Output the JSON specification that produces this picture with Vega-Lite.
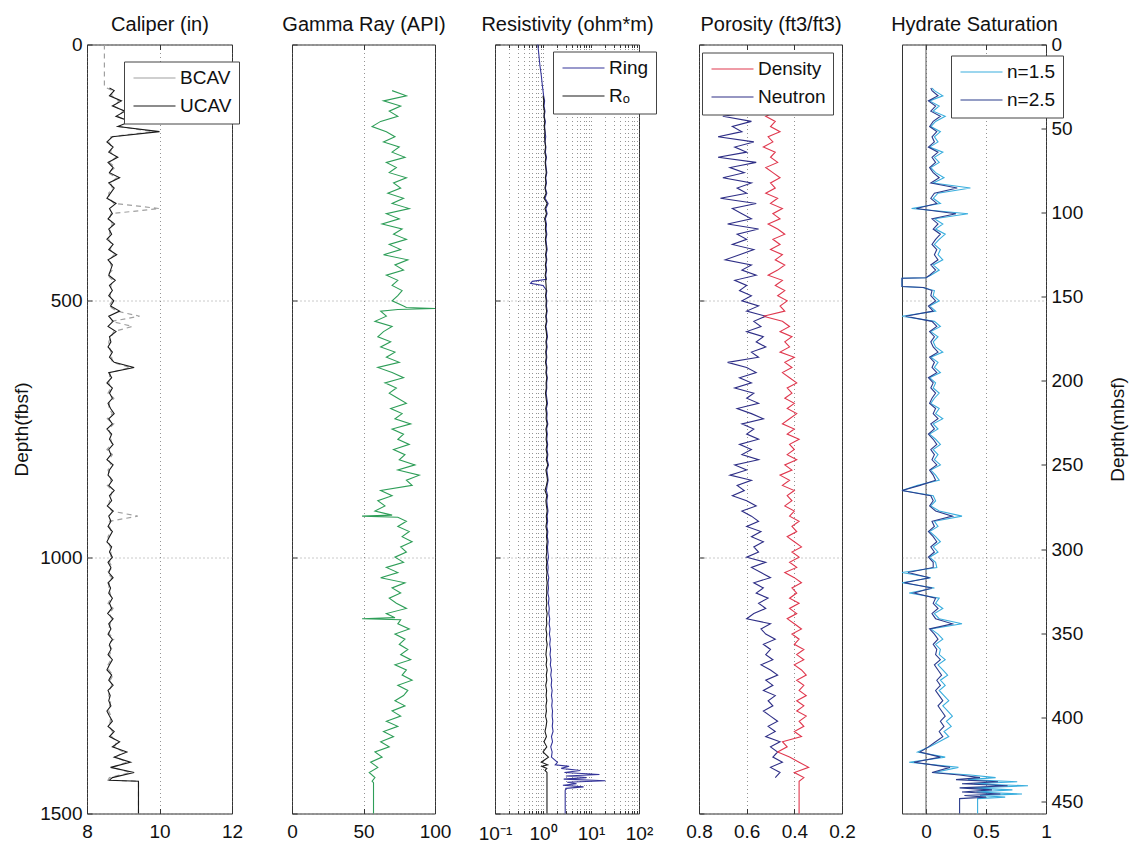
{
"$schema": "https://vega.github.io/schema/vega-lite/v6.json",
"padding": {"left": 12, "right": 0, "top": 13.5, "bottom": 0},
"config": {
  "font": "Liberation Sans",
  "view": {"stroke": "#333", "strokeWidth": 1},
  "axis": {"domain": false, "labelFontSize": 19, "labelColor": "#111", "titleFontSize": 19, "titleFontWeight": "normal", "titleColor": "#111", "tickColor": "#333", "tickSize": -5, "labelPadding": 10, "gridColor": "#666", "gridDash": [1, 3], "gridOpacity": 0.7, "labelFlush": false, "labelOverlap": false},
  "axisX": {"labelPadding": 14},
  "axisTop": {"labels": false, "grid": false, "titleFontSize": 20, "titlePadding": 10},
  "legend": {"orient": "none", "fillColor": "white", "strokeColor": "#444", "padding": 7, "rowPadding": 8, "labelFontSize": 19, "labelColor": "#111", "symbolType": "M-3,0H3", "symbolSize": 196, "symbolOffset": 14, "labelOffset": 16, "symbolStrokeWidth": 1},
  "line": {"strokeWidth": 1.1}
},
"datasets": {
  "cal": [
    {"d":0,"b":8.48},{"d":40,"b":8.48},{"d":82,"b":8.48},{"d":85,"u":8.62,"b":8.55},
    {"d":90,"u":8.75,"b":8.7},{"d":100,"u":8.62,"b":8.68},{"d":110,"u":8.95,"b":8.88},{"d":120,"u":8.7,"b":8.75},{"d":130,"u":9.05,"b":9.0},{"d":140,"u":8.8,"b":8.85},{"d":150,"u":9.2,"b":9.1},{"d":160,"u":8.85,"b":8.9},{"d":170,"u":10.0,"b":9.8},{"d":180,"u":8.7,"b":8.66},
    {"d":190,"u":8.55,"b":8.6},{"d":200,"u":8.72,"b":8.68},{"d":210,"u":8.6,"b":8.65},{"d":220,"u":8.85,"b":8.8},{"d":230,"u":8.58,"b":8.62},{"d":240,"u":8.72,"b":8.78},{"d":250,"u":8.62,"b":8.58},{"d":260,"u":8.9,"b":8.82},{"d":270,"u":8.6,"b":8.65},{"d":280,"u":8.75,"b":8.7},
    {"d":290,"u":8.65,"b":8.6},{"d":300,"u":8.55,"b":8.62},{"d":310,"u":8.8,"b":8.74},{"d":320,"u":8.62,"b":10.0},{"d":330,"u":8.7,"b":8.66},{"d":340,"u":8.58,"b":8.62},{"d":350,"u":8.76,"b":8.7},{"d":360,"u":8.6,"b":8.64},{"d":370,"u":8.68,"b":8.62},{"d":380,"u":8.55,"b":8.6},
    {"d":390,"u":8.72,"b":8.68},{"d":400,"u":8.6,"b":8.64},{"d":410,"u":8.82,"b":8.75},{"d":420,"u":8.58,"b":8.62},{"d":430,"u":8.7,"b":8.66},{"d":440,"u":8.65,"b":8.7},{"d":450,"u":8.6,"b":8.56},{"d":460,"u":8.78,"b":8.72},{"d":470,"u":8.62,"b":8.66},{"d":480,"u":8.7,"b":8.65},
    {"d":490,"u":8.6,"b":8.64},{"d":500,"u":8.74,"b":8.7},{"d":510,"u":8.65,"b":8.6},{"d":520,"u":8.9,"b":8.82},{"d":530,"u":8.6,"b":9.45},{"d":540,"u":8.72,"b":8.68},{"d":550,"u":8.58,"b":9.25},{"d":560,"u":8.8,"b":8.74},{"d":570,"u":8.62,"b":8.66},{"d":580,"u":8.66,"b":8.6},
    {"d":590,"u":8.58,"b":8.62},{"d":600,"u":8.7,"b":8.66},{"d":610,"u":8.62,"b":8.68},{"d":620,"u":8.75,"b":8.7},{"d":630,"u":9.3,"b":9.2},{"d":640,"u":8.6,"b":8.64},{"d":650,"u":8.68,"b":8.62},{"d":660,"u":8.55,"b":8.6},{"d":670,"u":8.7,"b":8.66},{"d":680,"u":8.62,"b":8.58},
    {"d":690,"u":8.7,"b":8.74},{"d":700,"u":8.58,"b":8.62},{"d":710,"u":8.65,"b":8.6},{"d":720,"u":8.75,"b":8.7},{"d":730,"u":8.6,"b":8.56},{"d":740,"u":8.7,"b":8.74},{"d":750,"u":8.55,"b":8.6},{"d":760,"u":8.68,"b":8.64},{"d":770,"u":8.62,"b":8.66},{"d":780,"u":8.72,"b":8.68},
    {"d":790,"u":8.6,"b":8.55},{"d":800,"u":8.66,"b":8.7},{"d":810,"u":8.55,"b":8.6},{"d":820,"u":8.72,"b":8.66},{"d":830,"u":8.62,"b":8.58},{"d":840,"u":8.58,"b":8.64},{"d":850,"u":8.7,"b":8.66},{"d":860,"u":8.6,"b":8.56},{"d":870,"u":8.75,"b":8.7},{"d":880,"u":8.62,"b":8.66},
    {"d":890,"u":8.68,"b":8.62},{"d":900,"u":8.56,"b":8.6},{"d":910,"u":8.72,"b":8.68},{"d":920,"u":8.6,"b":9.4},{"d":930,"u":8.66,"b":8.62},{"d":940,"u":8.58,"b":8.62},{"d":950,"u":8.7,"b":8.66},{"d":960,"u":8.62,"b":8.58},{"d":970,"u":8.55,"b":8.6},{"d":980,"u":8.68,"b":8.64},
    {"d":990,"u":8.62,"b":8.66},{"d":1000,"u":8.7,"b":8.66},{"d":1010,"u":8.58,"b":8.62},{"d":1020,"u":8.66,"b":8.7},{"d":1030,"u":8.6,"b":8.56},{"d":1040,"u":8.72,"b":8.68},{"d":1050,"u":8.58,"b":8.62},{"d":1060,"u":8.65,"b":8.6},{"d":1070,"u":8.6,"b":8.64},{"d":1080,"u":8.7,"b":8.66},
    {"d":1090,"u":8.62,"b":8.58},{"d":1100,"u":8.68,"b":8.72},{"d":1110,"u":8.57,"b":8.62},{"d":1120,"u":8.72,"b":8.68},{"d":1130,"u":8.6,"b":8.64},{"d":1140,"u":8.66,"b":8.6},{"d":1150,"u":8.58,"b":8.62},{"d":1160,"u":8.7,"b":8.74},{"d":1170,"u":8.62,"b":8.58},{"d":1180,"u":8.66,"b":8.7},
    {"d":1190,"u":8.58,"b":8.62},{"d":1200,"u":8.7,"b":8.66},{"d":1210,"u":8.62,"b":8.58},{"d":1220,"u":8.55,"b":8.6},{"d":1230,"u":8.68,"b":8.72},{"d":1240,"u":8.6,"b":8.64},{"d":1250,"u":8.72,"b":8.68},{"d":1260,"u":8.58,"b":8.62},{"d":1270,"u":8.64,"b":8.6},{"d":1280,"u":8.6,"b":8.66},
    {"d":1290,"u":8.66,"b":8.62},{"d":1300,"u":8.55,"b":8.6},{"d":1310,"u":8.62,"b":8.66},{"d":1320,"u":8.7,"b":8.64},{"d":1330,"u":8.58,"b":8.62},{"d":1340,"u":8.75,"b":8.7},{"d":1350,"u":8.62,"b":8.68},{"d":1360,"u":8.9,"b":8.82},{"d":1370,"u":8.7,"b":8.76},{"d":1380,"u":9.1,"b":9.0},
    {"d":1390,"u":8.75,"b":8.8},{"d":1400,"u":9.2,"b":9.1},{"d":1410,"u":8.65,"b":8.7},{"d":1420,"u":9.3,"b":9.2},{"d":1430,"u":8.7,"b":8.62},{"d":1435,"u":8.62,"b":8.58},{"d":1437,"u":9.42,"b":9.42},{"d":1500,"u":9.42,"b":9.42}
  ],
  "gr": [
    {"d":90,"g":70},{"d":100,"g":80},{"d":110,"g":64},{"d":120,"g":76},{"d":130,"g":68},{"d":140,"g":74},{"d":150,"g":62},{"d":160,"g":56},{"d":170,"g":66},{"d":180,"g":72},
    {"d":190,"g":64},{"d":200,"g":75},{"d":210,"g":70},{"d":220,"g":79},{"d":230,"g":66},{"d":240,"g":73},{"d":250,"g":68},{"d":260,"g":80},{"d":270,"g":71},{"d":280,"g":76},
    {"d":290,"g":67},{"d":300,"g":78},{"d":310,"g":70},{"d":320,"g":82},{"d":330,"g":66},{"d":340,"g":75},{"d":350,"g":63},{"d":360,"g":77},{"d":370,"g":71},{"d":380,"g":80},
    {"d":390,"g":68},{"d":400,"g":76},{"d":410,"g":64},{"d":420,"g":81},{"d":430,"g":72},{"d":440,"g":78},{"d":450,"g":66},{"d":460,"g":74},{"d":470,"g":70},{"d":480,"g":77},
    {"d":490,"g":74},{"d":500,"g":70},{"d":510,"g":78},{"d":513,"g":80},{"d":515,"g":100},{"d":517,"g":74},{"d":520,"g":62},{"d":530,"g":66},{"d":540,"g":58},{"d":550,"g":70},{"d":560,"g":64},{"d":570,"g":60},{"d":580,"g":69},
    {"d":590,"g":62},{"d":600,"g":72},{"d":610,"g":66},{"d":620,"g":75},{"d":630,"g":60},{"d":640,"g":70},{"d":650,"g":78},{"d":660,"g":65},{"d":670,"g":73},{"d":680,"g":68},
    {"d":690,"g":74},{"d":700,"g":80},{"d":710,"g":69},{"d":720,"g":77},{"d":730,"g":72},{"d":740,"g":83},{"d":750,"g":70},{"d":760,"g":78},{"d":770,"g":74},{"d":780,"g":82},
    {"d":790,"g":71},{"d":800,"g":79},{"d":810,"g":75},{"d":820,"g":86},{"d":830,"g":74},{"d":840,"g":89},{"d":850,"g":80},{"d":860,"g":84},{"d":870,"g":62},{"d":880,"g":70},
    {"d":890,"g":60},{"d":900,"g":65},{"d":910,"g":58},{"d":918,"g":70},{"d":920,"g":49},{"d":922,"g":74},{"d":930,"g":80},{"d":940,"g":74},{"d":950,"g":82},{"d":960,"g":77},{"d":970,"g":84},{"d":980,"g":76},
    {"d":990,"g":80},{"d":1000,"g":72},{"d":1010,"g":78},{"d":1020,"g":66},{"d":1030,"g":74},{"d":1040,"g":62},{"d":1050,"g":79},{"d":1060,"g":70},{"d":1070,"g":76},{"d":1080,"g":68},
    {"d":1090,"g":73},{"d":1100,"g":80},{"d":1110,"g":66},{"d":1118,"g":72},{"d":1120,"g":49},{"d":1122,"g":76},{"d":1130,"g":74},{"d":1140,"g":82},{"d":1150,"g":72},{"d":1160,"g":79},{"d":1170,"g":75},{"d":1180,"g":81},
    {"d":1190,"g":76},{"d":1200,"g":83},{"d":1210,"g":72},{"d":1220,"g":80},{"d":1230,"g":77},{"d":1240,"g":84},{"d":1250,"g":74},{"d":1260,"g":81},{"d":1270,"g":78},{"d":1280,"g":72},
    {"d":1290,"g":79},{"d":1300,"g":70},{"d":1310,"g":76},{"d":1320,"g":66},{"d":1330,"g":74},{"d":1340,"g":64},{"d":1350,"g":71},{"d":1360,"g":62},{"d":1370,"g":68},{"d":1380,"g":58},
    {"d":1390,"g":63},{"d":1400,"g":55},{"d":1410,"g":60},{"d":1420,"g":54},{"d":1430,"g":58},{"d":1437,"g":56},{"d":1440,"g":57},{"d":1500,"g":57}
  ],
  "res": [
    {"d":0,"r":0.78},{"d":20,"r":0.82},{"d":40,"r":0.86},{"d":60,"r":0.92},{"d":80,"r":0.97},{"d":90,"r":1.0},
    {"d":100,"r":1.03,"o":1.0},{"d":110,"r":1.08,"o":1.04},{"d":120,"r":1.05,"o":1.02},{"d":130,"r":1.1,"o":1.07},{"d":140,"r":1.06,"o":1.05},{"d":150,"r":1.12,"o":1.09},{"d":160,"r":1.08,"o":1.06},{"d":170,"r":1.1,"o":1.1},{"d":180,"r":1.14,"o":1.08},
    {"d":190,"r":1.1,"o":1.1},{"d":200,"r":1.15,"o":1.13},{"d":210,"r":1.12,"o":1.09},{"d":220,"r":1.18,"o":1.15},{"d":230,"r":1.13,"o":1.11},{"d":240,"r":1.16,"o":1.14},{"d":250,"r":1.2,"o":1.17},{"d":260,"r":1.14,"o":1.12},{"d":270,"r":1.18,"o":1.15},{"d":280,"r":1.12,"o":1.1},
    {"d":290,"r":1.2,"o":1.16},{"d":300,"r":1.1,"o":1.05},{"d":310,"r":1.28,"o":1.22},{"d":320,"r":1.15,"o":1.1},{"d":330,"r":1.22,"o":1.18},{"d":340,"r":1.12,"o":1.08},{"d":350,"r":1.18,"o":1.14},{"d":360,"r":1.16,"o":1.12},{"d":370,"r":1.2,"o":1.16},{"d":380,"r":1.15,"o":1.12},
    {"d":390,"r":1.18,"o":1.15},{"d":400,"r":1.22,"o":1.18},{"d":410,"r":1.16,"o":1.13},{"d":420,"r":1.2,"o":1.17},{"d":430,"r":1.15,"o":1.12},{"d":440,"r":1.19,"o":1.16},{"d":450,"r":1.14,"o":1.11},{"d":458,"r":1.18,"o":1.15},{"d":462,"r":0.6,"o":1.14},{"d":466,"r":0.55,"o":1.15},{"d":470,"r":1.0,"o":1.16},{"d":480,"r":1.2,"o":1.17},
    {"d":490,"r":1.16,"o":1.13},{"d":500,"r":1.2,"o":1.17},{"d":510,"r":1.18,"o":1.15},{"d":520,"r":1.22,"o":1.19},{"d":530,"r":1.17,"o":1.14},{"d":540,"r":1.21,"o":1.18},{"d":550,"r":1.15,"o":1.12},{"d":560,"r":1.2,"o":1.17},{"d":570,"r":1.24,"o":1.2},{"d":580,"r":1.18,"o":1.15},
    {"d":590,"r":1.22,"o":1.18},{"d":600,"r":1.17,"o":1.14},{"d":610,"r":1.2,"o":1.17},{"d":620,"r":1.16,"o":1.13},{"d":630,"r":1.21,"o":1.18},{"d":640,"r":1.18,"o":1.15},{"d":650,"r":1.23,"o":1.2},{"d":660,"r":1.19,"o":1.16},{"d":670,"r":1.2,"o":1.17},{"d":680,"r":1.16,"o":1.13},
    {"d":690,"r":1.2,"o":1.16},{"d":700,"r":1.24,"o":1.2},{"d":710,"r":1.18,"o":1.14},{"d":720,"r":1.22,"o":1.18},{"d":730,"r":1.2,"o":1.16},{"d":740,"r":1.26,"o":1.22},{"d":750,"r":1.19,"o":1.15},{"d":760,"r":1.23,"o":1.19},{"d":770,"r":1.2,"o":1.16},{"d":780,"r":1.25,"o":1.21},
    {"d":790,"r":1.21,"o":1.16},{"d":800,"r":1.26,"o":1.22},{"d":810,"r":1.22,"o":1.17},{"d":820,"r":1.3,"o":1.26},{"d":830,"r":1.2,"o":1.15},{"d":840,"r":1.24,"o":1.2},{"d":850,"r":1.28,"o":1.24},{"d":860,"r":1.22,"o":1.18},{"d":870,"r":1.18,"o":1.1},{"d":880,"r":1.25,"o":1.2},
    {"d":890,"r":1.2,"o":1.15},{"d":900,"r":1.23,"o":1.18},{"d":910,"r":1.27,"o":1.22},{"d":920,"r":1.22,"o":1.17},{"d":930,"r":1.25,"o":1.2},{"d":940,"r":1.2,"o":1.15},{"d":950,"r":1.26,"o":1.21},{"d":960,"r":1.23,"o":1.18},{"d":970,"r":1.28,"o":1.22},{"d":980,"r":1.24,"o":1.18},
    {"d":990,"r":1.26,"o":1.2},{"d":1000,"r":1.3,"o":1.16},{"d":1010,"r":1.24,"o":1.2},{"d":1020,"r":1.28,"o":1.17},{"d":1030,"r":1.25,"o":1.21},{"d":1040,"r":1.32,"o":1.18},{"d":1050,"r":1.27,"o":1.22},{"d":1060,"r":1.3,"o":1.19},{"d":1070,"r":1.26,"o":1.2},{"d":1080,"r":1.33,"o":1.17},
    {"d":1090,"r":1.3,"o":1.2},{"d":1100,"r":1.35,"o":1.16},{"d":1110,"r":1.32,"o":1.22},{"d":1120,"r":1.38,"o":1.18},{"d":1130,"r":1.34,"o":1.2},{"d":1140,"r":1.4,"o":1.15},{"d":1150,"r":1.36,"o":1.2},{"d":1160,"r":1.42,"o":1.17},{"d":1170,"r":1.38,"o":1.22},{"d":1180,"r":1.44,"o":1.18},
    {"d":1190,"r":1.4,"o":1.15},{"d":1200,"r":1.46,"o":1.2},{"d":1210,"r":1.42,"o":1.16},{"d":1220,"r":1.5,"o":1.22},{"d":1230,"r":1.45,"o":1.17},{"d":1240,"r":1.52,"o":1.2},{"d":1250,"r":1.48,"o":1.14},{"d":1260,"r":1.55,"o":1.19},{"d":1270,"r":1.5,"o":1.16},{"d":1280,"r":1.56,"o":1.2},
    {"d":1290,"r":1.52,"o":1.15},{"d":1300,"r":1.58,"o":1.18},{"d":1310,"r":1.55,"o":1.13},{"d":1320,"r":1.6,"o":1.2},{"d":1330,"r":1.56,"o":1.16},{"d":1340,"r":1.62,"o":1.1},{"d":1350,"r":1.5,"o":1.18},{"d":1360,"r":1.58,"o":1.05},{"d":1370,"r":1.45,"o":1.2},{"d":1380,"r":1.55,"o":1.0},
    {"d":1390,"r":1.5,"o":1.3},{"d":1400,"r":2.0,"o":0.92},{"d":1405,"r":1.8,"o":1.25},{"d":1408,"r":3.5,"o":0.95},{"d":1412,"r":2.4,"o":1.2},{"d":1416,"r":6,"o":1.1},{"d":1420,"r":2.8,"o":1.21},{"d":1424,"r":15,"o":1.21},{"d":1427,"r":3,"o":1.21},{"d":1430,"r":8,"o":1.21},{"d":1433,"r":2.7,"o":1.21},{"d":1436,"r":20,"o":1.21},{"d":1439,"r":3.2,"o":1.21},{"d":1442,"r":5,"o":1.21},{"d":1445,"r":2.6,"o":1.21},{"d":1448,"r":7,"o":1.21},{"d":1451,"r":3,"o":1.21},{"d":1455,"r":2.9,"o":1.21},{"d":1500,"r":2.9,"o":1.21}
  ],
  "por": [
    {"d":110,"n":0.6},{"d":120,"p":0.5,"n":0.68},{"d":130,"p":0.47,"n":0.55},{"d":140,"p":0.52,"n":0.7},{"d":150,"p":0.48,"n":0.58},{"d":160,"p":0.5,"n":0.66},{"d":170,"p":0.46,"n":0.62},{"d":180,"p":0.51,"n":0.72},
    {"d":190,"p":0.49,"n":0.57},{"d":200,"p":0.53,"n":0.65},{"d":210,"p":0.48,"n":0.6},{"d":220,"p":0.5,"n":0.72},{"d":230,"p":0.47,"n":0.56},{"d":240,"p":0.52,"n":0.67},{"d":250,"p":0.49,"n":0.61},{"d":260,"p":0.46,"n":0.7},{"d":270,"p":0.5,"n":0.58},{"d":280,"p":0.48,"n":0.64},
    {"d":290,"p":0.52,"n":0.6},{"d":300,"p":0.47,"n":0.71},{"d":310,"p":0.5,"n":0.56},{"d":320,"p":0.45,"n":0.66},{"d":330,"p":0.49,"n":0.62},{"d":340,"p":0.46,"n":0.58},{"d":350,"p":0.51,"n":0.68},{"d":360,"p":0.47,"n":0.55},{"d":370,"p":0.44,"n":0.64},{"d":380,"p":0.49,"n":0.6},
    {"d":390,"p":0.46,"n":0.66},{"d":400,"p":0.5,"n":0.57},{"d":410,"p":0.45,"n":0.63},{"d":420,"p":0.48,"n":0.69},{"d":430,"p":0.44,"n":0.58},{"d":440,"p":0.47,"n":0.62},{"d":450,"p":0.51,"n":0.56},{"d":460,"p":0.45,"n":0.65},{"d":470,"p":0.48,"n":0.6},{"d":480,"p":0.44,"n":0.63},
    {"d":490,"p":0.47,"n":0.58},{"d":500,"p":0.43,"n":0.62},{"d":510,"p":0.46,"n":0.55},{"d":520,"p":0.44,"n":0.6},{"d":530,"p":0.53,"n":0.52},{"d":540,"p":0.45,"n":0.57},{"d":550,"p":0.42,"n":0.54},{"d":560,"p":0.46,"n":0.6},{"d":570,"p":0.41,"n":0.53},{"d":580,"p":0.44,"n":0.56},
    {"d":590,"p":0.42,"n":0.52},{"d":600,"p":0.46,"n":0.58},{"d":610,"p":0.4,"n":0.55},{"d":620,"p":0.44,"n":0.68},{"d":630,"p":0.41,"n":0.6},{"d":640,"p":0.45,"n":0.56},{"d":650,"p":0.42,"n":0.63},{"d":660,"p":0.39,"n":0.58},{"d":670,"p":0.43,"n":0.65},{"d":680,"p":0.41,"n":0.57},
    {"d":690,"p":0.44,"n":0.6},{"d":700,"p":0.4,"n":0.55},{"d":710,"p":0.43,"n":0.64},{"d":720,"p":0.39,"n":0.58},{"d":730,"p":0.42,"n":0.53},{"d":740,"p":0.45,"n":0.62},{"d":750,"p":0.4,"n":0.57},{"d":760,"p":0.43,"n":0.6},{"d":770,"p":0.38,"n":0.55},{"d":780,"p":0.42,"n":0.63},
    {"d":790,"p":0.4,"n":0.58},{"d":800,"p":0.43,"n":0.62},{"d":810,"p":0.39,"n":0.55},{"d":820,"p":0.44,"n":0.65},{"d":830,"p":0.41,"n":0.6},{"d":840,"p":0.46,"n":0.67},{"d":850,"p":0.42,"n":0.58},{"d":860,"p":0.45,"n":0.64},{"d":870,"p":0.4,"n":0.61},{"d":880,"p":0.43,"n":0.66},
    {"d":890,"p":0.41,"n":0.6},{"d":900,"p":0.44,"n":0.56},{"d":910,"p":0.4,"n":0.62},{"d":920,"p":0.42,"n":0.58},{"d":930,"p":0.38,"n":0.55},{"d":940,"p":0.41,"n":0.6},{"d":950,"p":0.39,"n":0.54},{"d":960,"p":0.43,"n":0.58},{"d":970,"p":0.4,"n":0.53},{"d":980,"p":0.37,"n":0.57},
    {"d":990,"p":0.41,"n":0.55},{"d":1000,"p":0.38,"n":0.6},{"d":1010,"p":0.42,"n":0.52},{"d":1020,"p":0.39,"n":0.58},{"d":1030,"p":0.44,"n":0.54},{"d":1040,"p":0.4,"n":0.5},{"d":1050,"p":0.37,"n":0.57},{"d":1060,"p":0.41,"n":0.53},{"d":1070,"p":0.39,"n":0.56},{"d":1080,"p":0.42,"n":0.51},
    {"d":1090,"p":0.38,"n":0.55},{"d":1100,"p":0.42,"n":0.52},{"d":1110,"p":0.39,"n":0.57},{"d":1120,"p":0.43,"n":0.6},{"d":1130,"p":0.4,"n":0.5},{"d":1140,"p":0.37,"n":0.54},{"d":1150,"p":0.41,"n":0.52},{"d":1160,"p":0.38,"n":0.48},{"d":1170,"p":0.4,"n":0.53},{"d":1180,"p":0.36,"n":0.5},
    {"d":1190,"p":0.39,"n":0.52},{"d":1200,"p":0.36,"n":0.49},{"d":1210,"p":0.4,"n":0.54},{"d":1220,"p":0.37,"n":0.5},{"d":1230,"p":0.35,"n":0.47},{"d":1240,"p":0.39,"n":0.52},{"d":1250,"p":0.36,"n":0.49},{"d":1260,"p":0.38,"n":0.53},{"d":1270,"p":0.35,"n":0.48},{"d":1280,"p":0.39,"n":0.51},
    {"d":1290,"p":0.36,"n":0.49},{"d":1300,"p":0.39,"n":0.53},{"d":1310,"p":0.35,"n":0.5},{"d":1320,"p":0.38,"n":0.47},{"d":1330,"p":0.36,"n":0.51},{"d":1340,"p":0.4,"n":0.48},{"d":1350,"p":0.37,"n":0.52},{"d":1360,"p":0.45,"n":0.46},{"d":1370,"p":0.43,"n":0.5},{"d":1380,"p":0.47,"n":0.47},
    {"d":1390,"p":0.42,"n":0.49},{"d":1400,"p":0.38,"n":0.45},{"d":1410,"p":0.34,"n":0.5},{"d":1420,"p":0.4,"n":0.46},{"d":1430,"p":0.36,"n":0.48},{"d":1437,"p":0.38},{"d":1500,"p":0.38}
  ],
  "hyd": [
    {"d":85,"a":0.05,"b":0.04},{"d":90,"a":0.07,"b":0.05},{"d":100,"a":0.14,"b":0.1},{"d":110,"a":0.03,"b":0.02},{"d":120,"a":0.11,"b":0.08},{"d":130,"a":0.06,"b":0.04},{"d":140,"a":0.16,"b":0.12},{"d":150,"a":0.08,"b":0.06},{"d":160,"a":0.04,"b":0.03},{"d":170,"a":0.12,"b":0.09},{"d":180,"a":0.07,"b":0.05},
    {"d":190,"a":0.1,"b":0.07},{"d":200,"a":0.03,"b":0.02},{"d":210,"a":0.14,"b":0.1},{"d":220,"a":0.07,"b":0.05},{"d":230,"a":0.11,"b":0.08},{"d":240,"a":0.04,"b":0.03},{"d":250,"a":0.08,"b":0.06},{"d":260,"a":0.15,"b":0.11},{"d":270,"a":0.06,"b":0.04},{"d":280,"a":0.37,"b":0.26},
    {"d":290,"a":0.1,"b":0.07},{"d":300,"a":0.06,"b":0.04},{"d":310,"a":0.12,"b":0.09},{"d":320,"a":-0.12,"b":-0.08},{"d":330,"a":0.35,"b":0.25},{"d":340,"a":0.07,"b":0.05},{"d":350,"a":0.14,"b":0.1},{"d":360,"a":0.08,"b":0.06},{"d":370,"a":0.16,"b":0.12},{"d":380,"a":0.11,"b":0.08},
    {"d":390,"a":0.07,"b":0.05},{"d":400,"a":0.12,"b":0.09},{"d":410,"a":0.1,"b":0.07},{"d":420,"a":0.14,"b":0.1},{"d":430,"a":0.06,"b":0.04},{"d":440,"a":0.11,"b":0.08},{"d":450,"a":0.04,"b":0.03},{"d":455,"a":0.0,"b":0.0},{"d":456,"a":-0.2,"b":-0.2},{"d":472,"a":-0.2,"b":-0.2},{"d":474,"a":-0.03,"b":-0.02},{"d":480,"a":0.07,"b":0.05},
    {"d":490,"a":0.06,"b":0.04},{"d":500,"a":0.11,"b":0.08},{"d":510,"a":0.03,"b":0.02},{"d":520,"a":0.08,"b":0.06},{"d":530,"a":-0.2,"b":-0.17},{"d":540,"a":0.07,"b":0.05},{"d":550,"a":0.12,"b":0.09},{"d":560,"a":0.04,"b":0.03},{"d":570,"a":0.1,"b":0.07},{"d":580,"a":0.06,"b":0.04},
    {"d":590,"a":0.08,"b":0.06},{"d":600,"a":0.14,"b":0.1},{"d":610,"a":0.04,"b":0.03},{"d":620,"a":0.1,"b":0.07},{"d":630,"a":0.07,"b":0.05},{"d":640,"a":0.12,"b":0.09},{"d":650,"a":0.03,"b":0.02},{"d":660,"a":0.08,"b":0.06},{"d":670,"a":0.06,"b":0.04},{"d":680,"a":0.11,"b":0.08},
    {"d":690,"a":0.07,"b":0.05},{"d":700,"a":0.04,"b":0.03},{"d":710,"a":0.11,"b":0.08},{"d":720,"a":0.08,"b":0.06},{"d":730,"a":0.14,"b":0.1},{"d":740,"a":0.06,"b":0.04},{"d":750,"a":0.1,"b":0.07},{"d":760,"a":0.03,"b":0.02},{"d":770,"a":0.08,"b":0.06},{"d":780,"a":0.12,"b":0.09},
    {"d":790,"a":0.06,"b":0.04},{"d":800,"a":0.1,"b":0.07},{"d":810,"a":0.07,"b":0.05},{"d":820,"a":0.12,"b":0.09},{"d":830,"a":0.04,"b":0.03},{"d":840,"a":0.08,"b":0.06},{"d":850,"a":0.11,"b":0.08},{"d":860,"a":-0.07,"b":-0.05},{"d":870,"a":-0.2,"b":-0.2},{"d":880,"a":0.06,"b":0.04},
    {"d":890,"a":0.08,"b":0.06},{"d":900,"a":0.04,"b":0.03},{"d":910,"a":0.11,"b":0.08},{"d":920,"a":0.3,"b":0.22},{"d":930,"a":0.07,"b":0.05},{"d":940,"a":0.1,"b":0.07},{"d":950,"a":0.03,"b":0.02},{"d":960,"a":0.08,"b":0.06},{"d":970,"a":0.12,"b":0.09},{"d":980,"a":0.06,"b":0.04},
    {"d":990,"a":0.1,"b":0.07},{"d":1000,"a":0.03,"b":0.02},{"d":1010,"a":0.08,"b":0.06},{"d":1020,"a":0.09,"b":0.06},{"d":1030,"a":-0.2,"b":-0.15},{"d":1040,"a":0.04,"b":0.03},{"d":1050,"a":-0.2,"b":-0.18},{"d":1060,"a":0.07,"b":0.05},{"d":1070,"a":-0.14,"b":-0.1},{"d":1080,"a":0.11,"b":0.08},
    {"d":1090,"a":0.08,"b":0.06},{"d":1100,"a":0.14,"b":0.1},{"d":1110,"a":0.07,"b":0.05},{"d":1120,"a":0.11,"b":0.08},{"d":1130,"a":0.3,"b":0.22},{"d":1140,"a":0.04,"b":0.03},{"d":1150,"a":0.1,"b":0.07},{"d":1160,"a":0.14,"b":0.1},{"d":1170,"a":0.08,"b":0.06},{"d":1180,"a":0.12,"b":0.09},
    {"d":1190,"a":0.11,"b":0.08},{"d":1200,"a":0.16,"b":0.12},{"d":1210,"a":0.1,"b":0.07},{"d":1220,"a":0.14,"b":0.1},{"d":1230,"a":0.18,"b":0.13},{"d":1240,"a":0.12,"b":0.09},{"d":1250,"a":0.16,"b":0.12},{"d":1260,"a":0.11,"b":0.08},{"d":1270,"a":0.15,"b":0.11},{"d":1280,"a":0.19,"b":0.14},
    {"d":1290,"a":0.14,"b":0.1},{"d":1300,"a":0.18,"b":0.13},{"d":1310,"a":0.22,"b":0.16},{"d":1320,"a":0.17,"b":0.12},{"d":1330,"a":0.21,"b":0.15},{"d":1340,"a":0.15,"b":0.11},{"d":1350,"a":0.19,"b":0.14},{"d":1360,"a":0.11,"b":0.08},{"d":1370,"a":0.03,"b":0.02},{"d":1380,"a":-0.07,"b":-0.05},
    {"d":1390,"a":0.16,"b":0.12},{"d":1400,"a":-0.14,"b":-0.1},{"d":1410,"a":0.27,"b":0.2},{"d":1420,"a":0.07,"b":0.05},{"d":1425,"a":0.37,"b":0.28},{"d":1430,"a":0.58,"b":0.45},{"d":1434,"a":0.35,"b":0.25},{"d":1438,"a":0.76,"b":0.6},{"d":1442,"a":0.4,"b":0.3},{"d":1446,"a":0.85,"b":0.68},{"d":1450,"a":0.38,"b":0.28},{"d":1454,"a":0.72,"b":0.55},{"d":1458,"a":0.42,"b":0.3},{"d":1462,"a":0.8,"b":0.62},{"d":1465,"a":0.45,"b":0.32},{"d":1468,"a":0.66,"b":0.5},{"d":1471,"a":0.43,"b":0.28},{"d":1500,"a":0.43,"b":0.28}
  ],
  "zero": [{"z": 0}],
  "hm": [{"m": 0}, {"m": 457.2}]
},
"bounds": "flush",
"spacing": 60,
"resolve": {"scale": {"x": "independent", "y": "independent", "color": "independent"}, "legend": {"color": "independent"}},
"hconcat": [
  {
    "width": 145, "height": 769,
    "data": {"name": "cal"},
    "resolve": {"axis": {"x": "independent"}},
    "encoding": {
      "y": {"field": "d", "type": "quantitative", "scale": {"domain": [0, 1500], "reverse": true, "nice": false, "zero": false}, "axis": {"values": [0, 500, 1000, 1500], "format": "d", "title": "Depth(fbsf)", "grid": true, "titlePadding": 8}},
      "order": {"field": "d", "type": "quantitative"}
    },
    "layer": [
      {"mark": {"type": "line", "strokeDash": [5, 4], "strokeWidth": 1.2},
       "encoding": {
         "x": {"field": "b", "type": "quantitative", "scale": {"domain": [8, 12], "nice": false, "zero": false}, "axis": {"orient": "bottom", "values": [8, 10, 12], "grid": true, "title": null}},
         "color": {"datum": "BCAV", "type": "nominal", "scale": {"domain": ["BCAV", "UCAV"], "range": ["#a0a0a0", "#1a1a1a"]},
           "legend": {"title": null, "legendX": 37, "legendY": 17, "encode": {"symbols": {"update": {"strokeDash": {"signal": "datum.value === 'BCAV' ? [5, 3] : []"}}}}}}
       }},
      {"mark": {"type": "line", "strokeWidth": 1.1},
       "encoding": {
         "x": {"field": "u", "type": "quantitative", "axis": {"orient": "top", "values": [8, 10, 12], "title": "Caliper (in)"}},
         "color": {"datum": "UCAV", "type": "nominal"}
       }}
    ]
  },
  {
    "width": 143, "height": 769,
    "data": {"name": "gr"},
    "resolve": {"axis": {"x": "independent"}},
    "encoding": {
      "y": {"field": "d", "type": "quantitative", "scale": {"domain": [0, 1500], "reverse": true, "nice": false, "zero": false}, "axis": {"values": [0, 500, 1000, 1500], "title": null, "labels": false, "grid": true}},
      "order": {"field": "d", "type": "quantitative"}
    },
    "layer": [
      {"mark": {"type": "line", "color": "#2e9e58", "strokeWidth": 1.1},
       "encoding": {"x": {"field": "g", "type": "quantitative", "scale": {"domain": [0, 100], "nice": false}, "axis": {"orient": "bottom", "values": [0, 50, 100], "grid": true, "title": null}}}},
      {"mark": {"type": "line", "color": "#2e9e58", "opacity": 0},
       "encoding": {"x": {"field": "g", "type": "quantitative", "axis": {"orient": "top", "values": [0, 50, 100], "title": "Gamma Ray (API)"}}}}
    ]
  },
  {
    "width": 144, "height": 769,
    "data": {"name": "res"},
    "resolve": {"axis": {"x": "independent"}},
    "encoding": {
      "y": {"field": "d", "type": "quantitative", "scale": {"domain": [0, 1500], "reverse": true, "nice": false, "zero": false}, "axis": {"values": [0, 500, 1000, 1500], "title": null, "labels": false, "grid": true}},
      "order": {"field": "d", "type": "quantitative"}
    },
    "layer": [
      {"mark": {"type": "line", "strokeWidth": 1.1},
       "encoding": {
         "x": {"field": "r", "type": "quantitative", "scale": {"type": "log", "domain": [0.1, 100], "nice": false}, "axis": {"orient": "bottom", "values": [0.1, 0.2, 0.3, 0.4, 0.5, 0.6, 0.7, 0.8, 0.9, 1, 2, 3, 4, 5, 6, 7, 8, 9, 10, 20, 30, 40, 50, 60, 70, 80, 90, 100], "grid": true, "title": null, "tickSize": -3, "labelExpr": "datum.value == 0.1 ? '10⁻¹' : datum.value == 1 ? '10⁰' : datum.value == 10 ? '10¹' : datum.value == 100 ? '10²' : ''"}},
         "color": {"datum": "Ring", "type": "nominal", "scale": {"domain": ["Ring", "Rₒ"], "range": ["#35359a", "#1a1a1a"]},
           "legend": {"title": null, "legendX": 58, "legendY": 7}}
       }},
      {"mark": {"type": "line", "strokeWidth": 1.1},
       "encoding": {
         "x": {"field": "o", "type": "quantitative", "axis": {"orient": "top", "values": [0.1, 0.2, 0.3, 0.4, 0.5, 0.6, 0.7, 0.8, 0.9, 1, 2, 3, 4, 5, 6, 7, 8, 9, 10, 20, 30, 40, 50, 60, 70, 80, 90, 100], "tickSize": -3, "title": "Resistivity (ohm*m)"}},
         "color": {"datum": "Rₒ", "type": "nominal"}
       }}
    ]
  },
  {
    "width": 143, "height": 769,
    "data": {"name": "por"},
    "resolve": {"axis": {"x": "independent"}},
    "encoding": {
      "y": {"field": "d", "type": "quantitative", "scale": {"domain": [0, 1500], "reverse": true, "nice": false, "zero": false}, "axis": {"values": [0, 500, 1000, 1500], "title": null, "labels": false, "grid": true}},
      "order": {"field": "d", "type": "quantitative"}
    },
    "layer": [
      {"mark": {"type": "line", "strokeWidth": 1.1},
       "encoding": {
         "x": {"field": "n", "type": "quantitative", "scale": {"domain": [0.2, 0.8], "reverse": true, "nice": false, "zero": false}, "axis": {"orient": "bottom", "values": [0.8, 0.6, 0.4, 0.2], "format": ".1f", "grid": true, "title": null}},
         "color": {"datum": "Neutron", "type": "nominal", "scale": {"domain": ["Density", "Neutron"], "range": ["#e0384e", "#2e2e86"]},
           "legend": {"title": null, "legendX": 3, "legendY": 8}}
       }},
      {"mark": {"type": "line", "strokeWidth": 1.1},
       "encoding": {
         "x": {"field": "p", "type": "quantitative", "axis": {"orient": "top", "values": [0.8, 0.6, 0.4, 0.2], "title": "Porosity (ft3/ft3)"}},
         "color": {"datum": "Density", "type": "nominal"}
       }}
    ]
  },
  {
    "width": 144, "height": 769,
    "resolve": {"scale": {"y": "independent"}, "axis": {"x": "independent"}},
    "layer": [
      {"data": {"name": "zero"}, "mark": {"type": "rule", "color": "#555", "strokeWidth": 1},
       "encoding": {"x": {"field": "z", "type": "quantitative", "scale": {"domain": [-0.2, 1], "nice": false, "zero": false}, "axis": {"orient": "bottom", "values": [0, 0.5, 1], "format": "~g", "grid": true, "title": null}}}},
      {"data": {"name": "hyd"},
       "encoding": {
         "y": {"field": "d", "type": "quantitative", "scale": {"domain": [0, 1500], "reverse": true, "nice": false, "zero": false}, "axis": {"values": [0, 500, 1000, 1500], "title": null, "labels": false, "ticks": false, "grid": true}},
         "order": {"field": "d", "type": "quantitative"}
       },
       "layer": [
         {"mark": {"type": "line", "strokeWidth": 1.1},
          "encoding": {
            "x": {"field": "a", "type": "quantitative", "axis": {"orient": "top", "values": [0, 0.5, 1], "title": "Hydrate Saturation"}},
            "color": {"datum": "n=1.5", "type": "nominal", "scale": {"domain": ["n=1.5", "n=2.5"], "range": ["#3aaede", "#2b3c8c"]},
              "legend": {"title": null, "legendX": 49, "legendY": 11}}
          }},
         {"mark": {"type": "line", "strokeWidth": 1.1},
          "encoding": {
            "x": {"field": "b", "type": "quantitative", "axis": {"orient": "top", "values": [0, 0.5, 1], "title": "Hydrate Saturation"}},
            "color": {"datum": "n=2.5", "type": "nominal"}
          }}
       ]},
      {"data": {"name": "hm"}, "mark": {"type": "point", "opacity": 0},
       "encoding": {"y": {"field": "m", "type": "quantitative", "scale": {"domain": [0, 457.2], "reverse": true, "nice": false, "zero": false},
         "axis": {"orient": "right", "values": [0, 50, 100, 150, 200, 250, 300, 350, 400, 450], "title": "Depth(mbsf)", "titleAngle": 270, "titleBaseline": "top", "titlePadding": 26, "grid": false}}}}
    ]
  }
]
}
